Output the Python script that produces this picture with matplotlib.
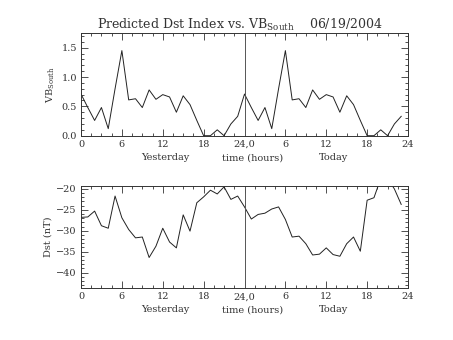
"""Predicted Dst index vs. VB_South, IDL-style two-panel plot."""
import matplotlib
matplotlib.use("Agg")
import matplotlib.pyplot as plt
from matplotlib.ticker import MultipleLocator
import numpy as np

plt.rcParams["font.family"] = "DejaVu Serif"
plt.rcParams["mathtext.fontset"] = "dejavuserif"

# hourly values, yesterday (0-23) then today (24-47)
vb_day = [0.71, 0.48, 0.26, 0.48, 0.12, 0.80, 1.45, 0.61, 0.63, 0.48, 0.78, 0.62,
          0.70, 0.66, 0.40, 0.68, 0.53, 0.26, 0.00, 0.00, 0.10, 0.00, 0.20, 0.33]
vb_south = vb_day + vb_day
dst_yesterday = [-26.8, -26.7, -25.3, -28.8, -29.4, -21.7, -26.9, -29.7, -31.7, -31.5,
                 -36.4, -33.7, -29.4, -32.7, -34.1, -26.2, -30.1, -23.3, -21.9, -20.3,
                 -21.2, -19.5, -22.5, -21.7]
dst_today = [-24.3, -27.2, -26.1, -25.8, -24.8, -24.3, -27.3, -31.5, -31.3, -33.1,
             -35.8, -35.6, -34.1, -35.7, -36.1, -33.1, -31.5, -34.9, -22.7, -22.1,
             -17.5, -17.5, -20.0, -23.7]
dst = dst_yesterday + dst_today
hours = np.arange(48)

xtick_pos = [0, 6, 12, 18, 24, 30, 36, 42, 48]
xtick_labels = ["0", "6", "12", "18", "24,0", "6", "12", "18", "24"]

fig = plt.figure(figsize=(4.53, 3.4), dpi=100)
ax1 = fig.add_axes([0.1788, 0.6009, 0.7219, 0.302])
ax2 = fig.add_axes([0.1788, 0.1529, 0.7219, 0.300])

fc = "#333333"


def style(ax, ylo, yhi, ymaj, ymin):
    ax.set_xlim(0, 48)
    ax.set_ylim(ylo, yhi)
    ax.set_xticks(xtick_pos)
    ax.set_xticklabels(xtick_labels)
    ax.xaxis.set_minor_locator(MultipleLocator(1.5))
    ax.yaxis.set_major_locator(MultipleLocator(ymaj))
    ax.yaxis.set_minor_locator(MultipleLocator(ymin))
    ax.tick_params(which="both", direction="in", top=True, right=True,
                   colors=fc, labelsize=7, width=0.6)
    ax.tick_params(which="major", length=5, pad=3)
    ax.tick_params(which="minor", length=2.5)
    for s in ax.spines.values():
        s.set_color(fc)
        s.set_linewidth(0.7)
    ax.axvline(24, color="#555555", lw=0.7)
    tr = ax.get_xaxis_transform()
    for x, t in [(12.4, "Yesterday"), (25.2, "time (hours)"), (37.1, "Today")]:
        ax.text(x, -0.215, t, transform=tr, ha="center", va="center",
                fontsize=7, color=fc)


ax1.plot(hours, vb_south, color="#222222", lw=0.7)
style(ax1, 0, 1.75, 0.5, 0.1)
ax1.yaxis.set_major_formatter(matplotlib.ticker.FormatStrFormatter("%.1f"))
ax1.set_ylabel(r"VB$_{\mathrm{South}}$", fontsize=7, color=fc, labelpad=3)

ax2.plot(hours, dst, color="#222222", lw=0.7)
style(ax2, -43.7, -19.3, 5, 1)
ax2.set_ylabel("Dst (nT)", fontsize=7, color=fc, labelpad=3)

fig.text(0.53, 0.928, r"Predicted Dst Index vs. VB$_{\mathrm{South}}$    06/19/2004",
         ha="center", va="center", fontsize=9, color=fc)

fig.savefig("out.png", dpi=100)
